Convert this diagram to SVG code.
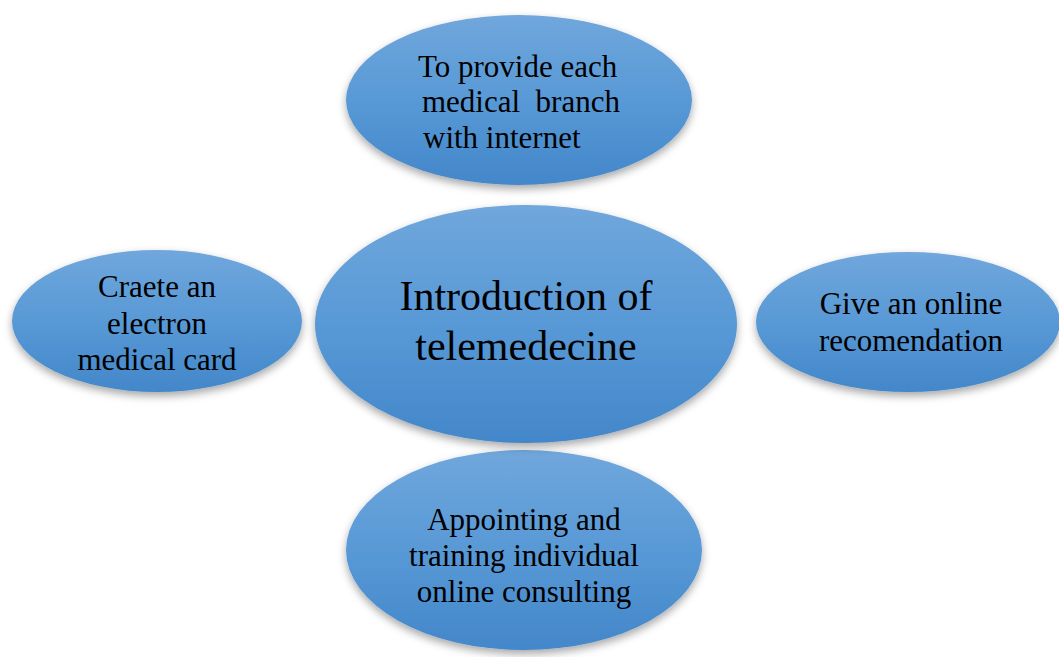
<svg xmlns="http://www.w3.org/2000/svg" width="1059" height="657" viewBox="0 0 1059 657">
<style>
.n{fill:url(#g);filter:url(#sh)}
.t{font-family:"Liberation Serif","Times New Roman",serif;font-size:31px;fill:#000}
.c{text-anchor:middle}
.big{font-size:42px}
</style>
<defs>
<linearGradient id="g" x1="0" y1="0" x2="0" y2="1">
<stop offset="0" stop-color="#70a7dc"/>
<stop offset="0.5" stop-color="#5899d6"/>
<stop offset="1" stop-color="#4387ca"/>
</linearGradient>
<filter id="sh" x="-10%" y="-10%" width="120%" height="130%">
<feDropShadow dx="0" dy="4" stdDeviation="4" flood-color="#000" flood-opacity="0.35"/>
</filter>
</defs>
<rect width="1059" height="657" fill="#fff"/>
<g id="connectors"></g>
<g id="top">
<ellipse class="n" cx="519" cy="100" rx="173" ry="85"/>
<text class="t" x="418" y="77">To provide each</text>
<text class="t" x="422" y="112" xml:space="preserve">medical  branch</text>
<text class="t" x="423" y="148">with internet</text>
</g>
<g id="left">
<ellipse class="n" cx="157" cy="321" rx="145" ry="71"/>
<text class="t c" x="157" y="297">Craete an</text>
<text class="t c" x="157" y="334">electron</text>
<text class="t c" x="157" y="370">medical card</text>
</g>
<g id="right">
<ellipse class="n" cx="908" cy="322" rx="152" ry="70"/>
<text class="t c" x="911" y="314">Give an online</text>
<text class="t c" x="911" y="351">recomendation</text>
</g>
<g id="bottom">
<ellipse class="n" cx="524" cy="550" rx="178" ry="100"/>
<text class="t c" x="524" y="530">Appointing and</text>
<text class="t c" x="524" y="566">training individual</text>
<text class="t c" x="524" y="602">online consulting</text>
</g>
<g id="center">
<ellipse class="n" cx="526" cy="324" rx="211" ry="119"/>
<text class="t c big" x="526" y="310">Introduction of</text>
<text class="t c big" x="526" y="360">telemedecine</text>
</g>
</svg>
